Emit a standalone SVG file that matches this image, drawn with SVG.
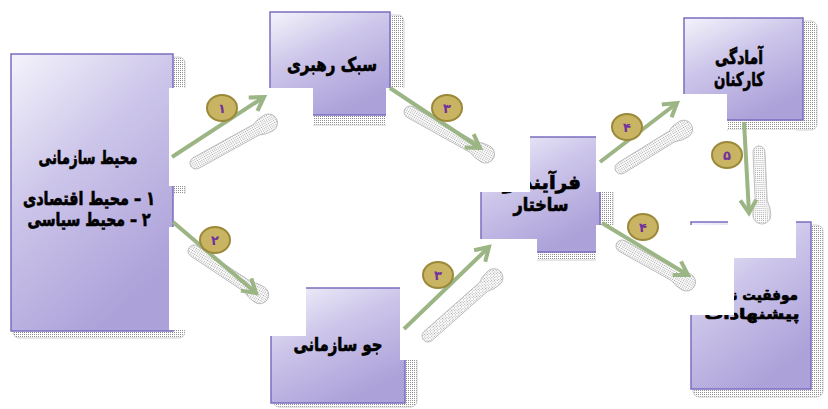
<svg xmlns="http://www.w3.org/2000/svg" width="828" height="409" viewBox="0 0 828 409">
<defs>
  <style>
    .box{fill:url(#boxGrad);stroke:#7b6dbf;stroke-width:1.5}
    .nshadow{fill:url(#dots);stroke:#c4c4c4;stroke-width:0.8}
    .lbl{font-family:"DejaVu Sans","Noto Sans",sans-serif;font-weight:bold;font-size:19px;fill:#000;stroke:#000;stroke-width:0.7;text-anchor:middle}
    .sm{font-size:15px}
    .patch{fill:#ffffff;stroke:none}
    .ashadow{fill:url(#ldots);stroke:#b4b4b4;stroke-width:0.8}
    .arrow{fill:none;stroke:#9bb585;stroke-width:4;marker-end:url(#head)}
    .badge{fill:#c8b462;stroke:#9b8838;stroke-width:2}
    .num{font-family:"DejaVu Sans",sans-serif;font-weight:bold;font-size:13px;fill:#7030a0;text-anchor:middle}
  </style>
  <linearGradient id="boxGrad" x1="0" y1="0" x2="0.55" y2="1">
    <stop offset="0" stop-color="#f4f3fb"/>
    <stop offset="0.45" stop-color="#cdc6ea"/>
    <stop offset="1" stop-color="#aca1d9"/>
  </linearGradient>
  <pattern id="dots" width="2" height="2" patternUnits="userSpaceOnUse">
    <rect width="2" height="2" fill="#ffffff"/>
    <rect width="1" height="1" fill="#8f8f8f"/>
  </pattern>
  <pattern id="ldots" width="2" height="2" patternUnits="userSpaceOnUse">
    <rect width="2" height="2" fill="#ffffff"/>
    <rect width="1" height="1" fill="#a6a6a6"/>
  </pattern>
  <marker id="head" markerUnits="userSpaceOnUse" markerWidth="24" markerHeight="24" viewBox="-18 -12 24 24" refX="0" refY="0" orient="auto" overflow="visible">
    <path d="M-13,-8 L0,0 L-13,8" fill="none" stroke="#9bb585" stroke-width="4" stroke-linejoin="miter"/>
  </marker>
</defs>

<g id="node-mohit">
  <rect class="nshadow" x="13" y="57" width="172" height="281" rx="6"/>
  <rect class="box" x="11" y="54" width="162" height="277"/>
  <text class="lbl" direction="rtl" x="88" y="164" textLength="99" lengthAdjust="spacingAndGlyphs">محیط سازمانی</text>
  <text class="lbl" direction="rtl" x="89" y="205" textLength="132" lengthAdjust="spacingAndGlyphs">۱ – محیط اقتصادی</text>
  <text class="lbl" direction="rtl" x="89" y="226" textLength="123" lengthAdjust="spacingAndGlyphs">۲ – محیط سیاسی</text>
</g>

<g id="node-sabk">
  <rect class="nshadow" x="272" y="15" width="132" height="110" rx="6"/>
  <rect class="box" x="270" y="12" width="120" height="103"/>
  <text class="lbl" direction="rtl" x="332" y="71" textLength="90" lengthAdjust="spacingAndGlyphs">سبک رهبری</text>
</g>

<g id="node-jav">
  <rect class="nshadow" x="273" y="291" width="144" height="116" rx="6"/>
  <rect class="box" x="271" y="288" width="134" height="115"/>
  <text class="lbl" direction="rtl" x="338" y="351" textLength="89" lengthAdjust="spacingAndGlyphs">جو سازمانی</text>
</g>

<g id="node-farayand">
  <rect class="nshadow" x="483" y="140" width="130" height="120" rx="6"/>
  <rect class="box" x="481" y="137" width="119" height="115"/>
  <text class="lbl" direction="rtl" x="542" y="189" textLength="78" lengthAdjust="spacingAndGlyphs">فرآیند و</text>
  <text class="lbl" direction="rtl" x="541" y="211" textLength="55" lengthAdjust="spacingAndGlyphs">ساختار</text>
</g>

<g id="node-amadegi">
  <rect class="nshadow" x="686" y="21" width="131" height="109" rx="6"/>
  <rect class="box" x="684" y="18" width="119" height="102"/>
  <text class="lbl" direction="rtl" x="739" y="64" textLength="48" lengthAdjust="spacingAndGlyphs">آمادگی</text>
  <text class="lbl" direction="rtl" x="739" y="86" textLength="50" lengthAdjust="spacingAndGlyphs">کارکنان</text>
</g>

<g id="node-movafaghiat">
  <rect class="nshadow" x="693" y="225" width="130" height="172" rx="6"/>
  <rect class="box" x="691" y="222" width="120" height="167"/>
  <text class="lbl sm" direction="rtl" x="751" y="300" textLength="94" lengthAdjust="spacingAndGlyphs">موفقیت نظام</text>
  <text class="lbl sm" direction="rtl" x="752" y="319" textLength="95" lengthAdjust="spacingAndGlyphs">پیشنهادات</text>
</g>

<g id="connectors">
  <g id="c1">
    <rect class="patch" x="169" y="88" width="144" height="98"/>
    <path class="ashadow" transform="translate(196,163) rotate(-28.9)" d="M0,-6 L68.8,-6 Q74.8,-9 82.8,-9 A9,9 0 0 1 82.8,9 Q74.8,9 68.8,6 L0,6 A6,6 0 0 1 0,-6 Z"/>
    <line class="arrow" x1="172" y1="157" x2="264" y2="97"/>
    <ellipse class="badge" cx="222" cy="108" rx="15" ry="13"/>
    <text class="num" x="222" y="113">۱</text>
  </g>
  <g id="c2">
    <path class="patch" d="M174,194 H306 V336 H185 V330 H169 V227 H174 Z"/>
    <path class="ashadow" transform="translate(194,251) rotate(33.7)" d="M0,-6 L64.9,-6 Q70.9,-9 78.9,-9 A9,9 0 0 1 78.9,9 Q70.9,9 64.9,6 L0,6 A6,6 0 0 1 0,-6 Z"/>
    <line class="arrow" x1="173" y1="222" x2="256" y2="293"/>
    <ellipse class="badge" cx="215" cy="240" rx="15" ry="13"/>
    <text class="num" x="215" y="245">۲</text>
  </g>
  <g id="c3a">
    <rect class="patch" x="386" y="88" width="144" height="104"/>
    <path class="ashadow" transform="translate(410,112) rotate(29.1)" d="M0,-6 L72.4,-6 Q78.4,-9 86.4,-9 A9,9 0 0 1 86.4,9 Q78.4,9 72.4,6 L0,6 A6,6 0 0 1 0,-6 Z"/>
    <line class="arrow" x1="390" y1="88" x2="480" y2="148"/>
    <ellipse class="badge" cx="447" cy="108" rx="15" ry="13"/>
    <text class="num" x="447" y="113">۳</text>
  </g>
  <g id="c3b">
    <rect class="patch" x="400" y="239" width="137" height="121"/>
    <path class="ashadow" transform="translate(428,336) rotate(-41.5)" d="M0,-6 L74.1,-6 Q80.1,-9 88.1,-9 A9,9 0 0 1 88.1,9 Q80.1,9 74.1,6 L0,6 A6,6 0 0 1 0,-6 Z"/>
    <line class="arrow" x1="404" y1="329" x2="489" y2="247"/>
    <ellipse class="badge" cx="438" cy="275" rx="15" ry="13"/>
    <text class="num" x="438" y="280">۳</text>
  </g>
  <g id="c4a">
    <rect class="patch" x="596" y="94" width="131" height="98"/>
    <path class="ashadow" transform="translate(621,168) rotate(-31.8)" d="M0,-6 L59.7,-6 Q65.7,-9 73.7,-9 A9,9 0 0 1 73.7,9 Q65.7,9 59.7,6 L0,6 A6,6 0 0 1 0,-6 Z"/>
    <line class="arrow" x1="600" y1="162" x2="677" y2="103"/>
    <ellipse class="badge" cx="627" cy="127" rx="15" ry="13"/>
    <text class="num" x="627" y="132">۴</text>
  </g>
  <g id="c4b">
    <rect class="patch" x="596" y="225" width="138" height="90"/>
    <path class="ashadow" transform="translate(622,246) rotate(29.2)" d="M0,-6 L59.9,-6 Q65.9,-9 73.9,-9 A9,9 0 0 1 73.9,9 Q65.9,9 59.9,6 L0,6 A6,6 0 0 1 0,-6 Z"/>
    <line class="arrow" x1="602" y1="223" x2="688" y2="275"/>
    <ellipse class="badge" cx="643" cy="227" rx="15" ry="13"/>
    <text class="num" x="643" y="232">۴</text>
  </g>
  <g id="c5">
    <rect class="patch" x="728" y="130" width="68" height="128"/>
    <path class="ashadow" transform="translate(759,152) rotate(87.4)" d="M0,-6 L49.1,-6 Q55.1,-9 63.1,-9 A9,9 0 0 1 63.1,9 Q55.1,9 49.1,6 L0,6 A6,6 0 0 1 0,-6 Z"/>
    <line class="arrow" x1="744" y1="122" x2="749" y2="213"/>
    <ellipse class="badge" cx="727" cy="155" rx="15" ry="13"/>
    <text class="num" x="727" y="160">۵</text>
  </g>
</g>
</svg>
